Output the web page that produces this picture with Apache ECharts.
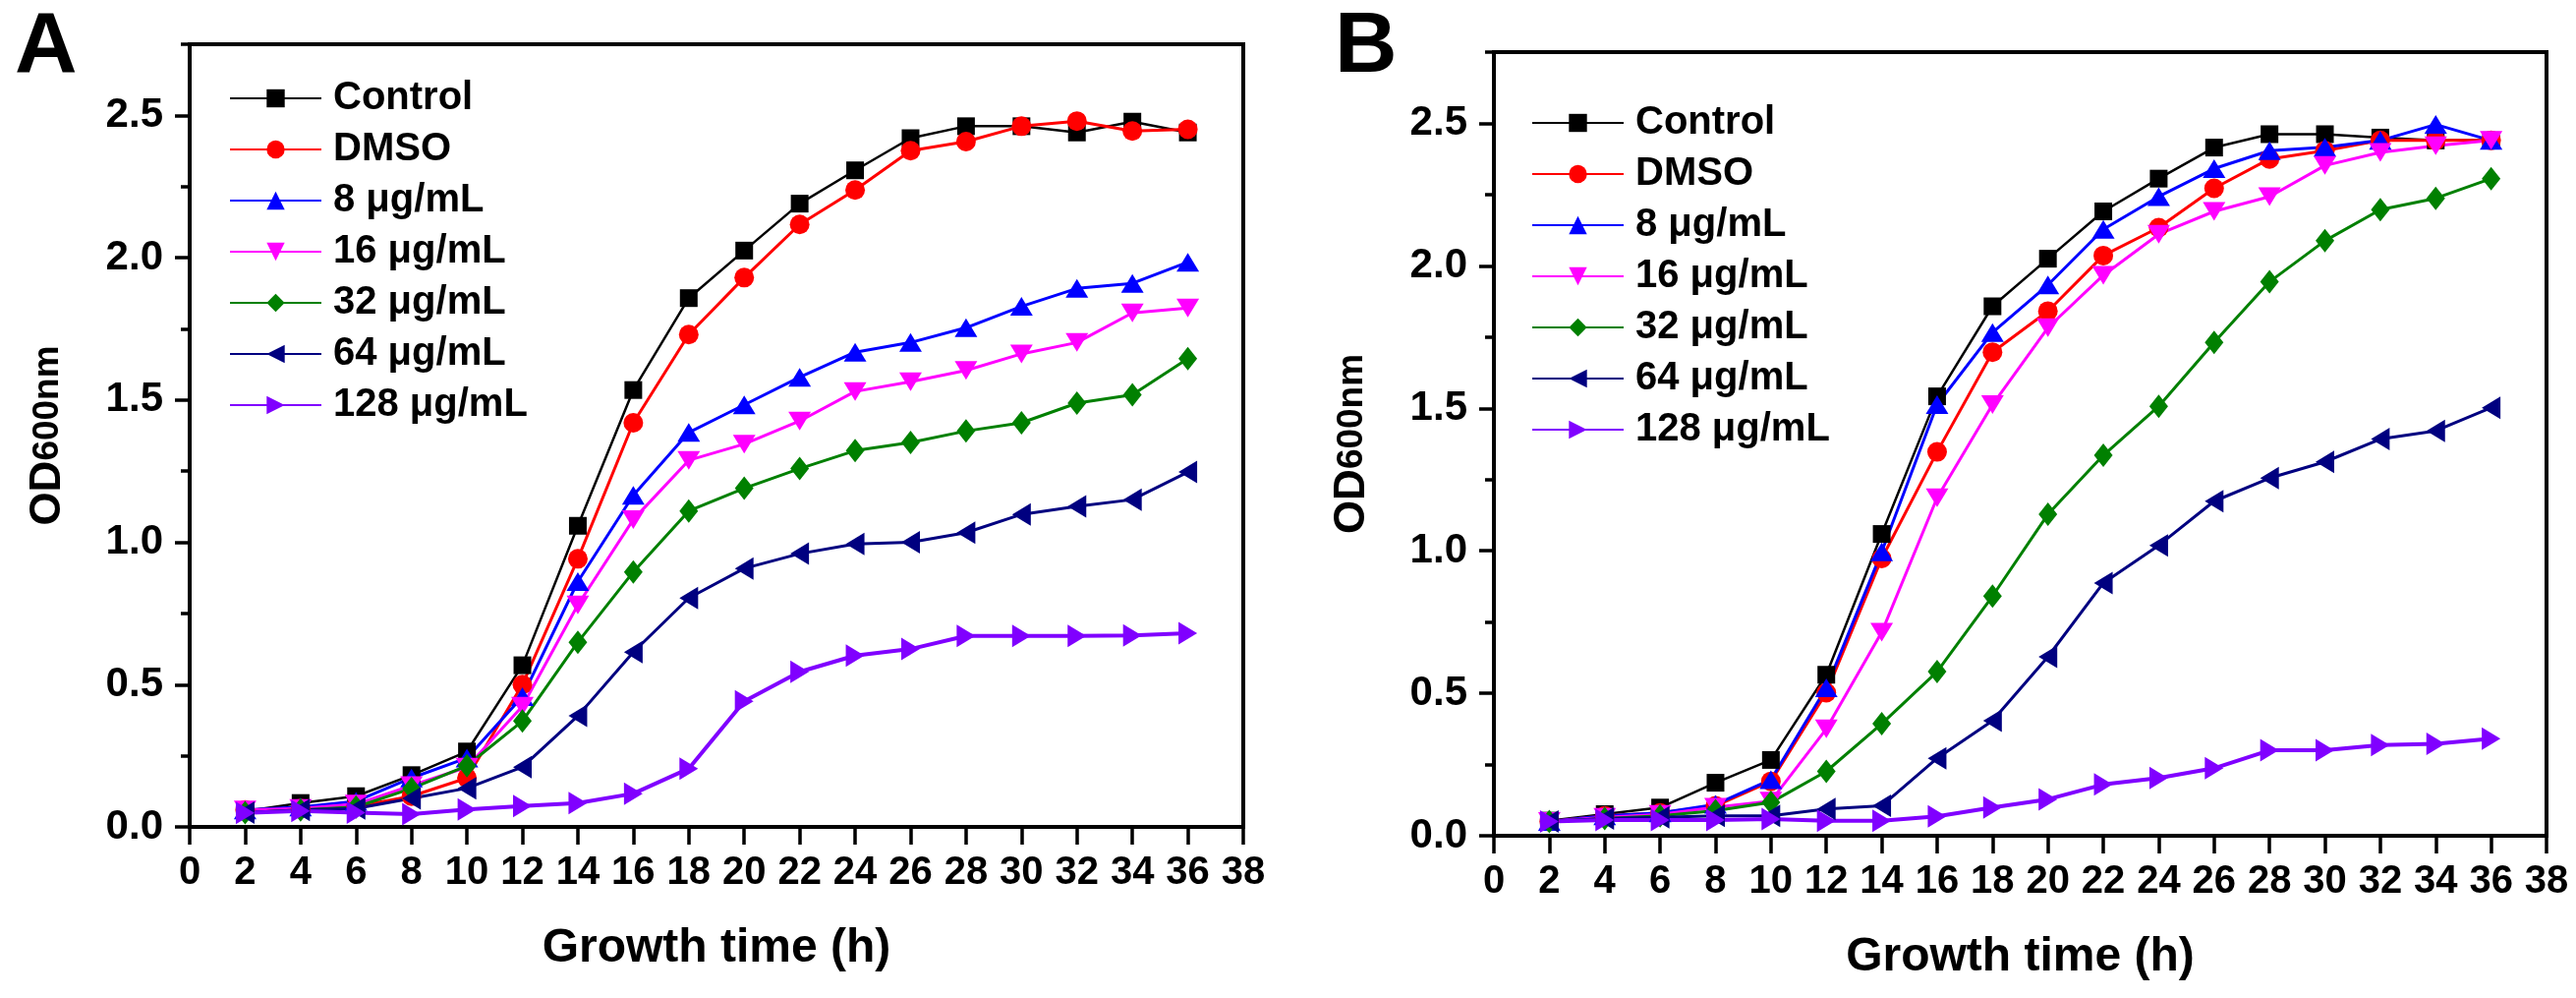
<!DOCTYPE html>
<html>
<head>
<meta charset="utf-8">
<script src="https://cdn.jsdelivr.net/npm/echarts@6/dist/echarts.min.js"></script>
<style>
html,body{margin:0;padding:0;background:#fff;}
#chart{width:2621px;height:1015px;}
</style>
</head>
<body>
<div id="chart"></div>
<script>
// ---- data ----
const times = [2,4,6,8,10,12,14,16,18,20,22,24,26,28,30,32,34,36];
const seriesNames = ['Control','DMSO','8 μg/mL','16 μg/mL','32 μg/mL','64 μg/mL','128 μg/mL'];
const xTickLabels = [0,2,4,6,8,10,12,14,16,18,20,22,24,26,28,30,32,34,36,38];
const yTickLabels = ['0.0','0.5','1.0','1.5','2.0','2.5'];

const A_control = [0.055,0.084,0.108,0.182,0.265,0.568,1.058,1.535,1.858,2.025,2.190,2.307,2.420,2.462,2.462,2.440,2.478,2.440];
const A_dmso    = [0.060,0.065,0.072,0.108,0.172,0.500,0.942,1.420,1.730,1.930,2.117,2.238,2.376,2.408,2.462,2.480,2.445,2.451];
const A_8       = [0.060,0.070,0.090,0.172,0.242,0.458,0.862,1.165,1.386,1.483,1.580,1.668,1.702,1.754,1.829,1.892,1.910,1.984];
const A_16      = [0.060,0.065,0.080,0.145,0.210,0.424,0.780,1.080,1.288,1.345,1.426,1.530,1.564,1.604,1.662,1.702,1.806,1.823];
const A_32      = [0.050,0.060,0.070,0.135,0.215,0.372,0.649,0.896,1.110,1.190,1.259,1.322,1.351,1.391,1.420,1.489,1.518,1.645];
const A_64      = [0.050,0.060,0.065,0.100,0.136,0.210,0.390,0.614,0.804,0.908,0.960,0.994,1.000,1.034,1.098,1.126,1.150,1.247];
const A_128     = [0.049,0.056,0.050,0.045,0.061,0.073,0.084,0.117,0.205,0.441,0.545,0.602,0.625,0.671,0.671,0.671,0.673,0.681];

const B_control = [0.053,0.076,0.099,0.186,0.266,0.565,1.059,1.542,1.858,2.025,2.191,2.306,2.415,2.462,2.462,2.450,2.440,2.440];
const B_dmso    = [0.050,0.070,0.080,0.105,0.191,0.502,0.973,1.347,1.697,1.841,2.036,2.134,2.272,2.375,2.404,2.440,2.440,2.440];
const B_8       = [0.050,0.070,0.080,0.110,0.197,0.519,0.996,1.513,1.766,1.933,2.128,2.243,2.341,2.404,2.416,2.440,2.496,2.440];
const B_16      = [0.050,0.065,0.075,0.100,0.122,0.375,0.714,1.186,1.513,1.783,1.967,2.111,2.191,2.243,2.352,2.398,2.421,2.440];
const B_32      = [0.050,0.060,0.070,0.088,0.117,0.226,0.393,0.576,0.841,1.128,1.335,1.507,1.731,1.944,2.088,2.197,2.237,2.306];
const B_64      = [0.050,0.060,0.065,0.070,0.070,0.094,0.105,0.272,0.404,0.628,0.887,1.019,1.174,1.255,1.312,1.392,1.421,1.502];
const B_128     = [0.050,0.055,0.055,0.055,0.059,0.053,0.053,0.068,0.099,0.128,0.180,0.203,0.237,0.300,0.300,0.318,0.323,0.341];

const panelA = [A_control,A_dmso,A_8,A_16,A_32,A_64,A_128];
const panelB = [B_control,B_dmso,B_8,B_16,B_32,B_64,B_128];

// ---- styles ----
const colors  = ['#000000','#FF0000','#0000FF','#FF00FF','#008000','#000080','#8000FF'];
const symbols = ['rect','circle','triangle','triangle','diamond','triangle','triangle'];
const rotates = [0,0,0,180,0,90,-90];
const sizes   = [18,20,[23,19],[23,19],[19,24],[23,19],[23,19]];
const widths  = [2.5,3,3,3,3,3,4];
const FONT = '"Liberation Sans", Arial, Helvetica, sans-serif';

const X_MIN = 0, X_MAX = 38, X_INT = 2;
const Y_MIN = 0, Y_MAX = 2.75, Y_MAJ = 0.5, Y_MIN_INT = 0.25, Y_LAB_MAX = 2.5;

const panels = [
  {grid:{left:193, top:45, width:1072, height:796}, legendLeft:228, legendTop:75, letter:'A', letterLeft:10, data:panelA},
  {grid:{left:1520, top:53, width:1071, height:797}, legendLeft:1553, legendTop:100, letter:'B', letterLeft:1353, data:panelB}
];

const grids = [], xAxes = [], yAxes = [], series = [], legends = [], titles = [];
panels.forEach((p, pi) => {
  const g = p.grid;
  grids.push({left:g.left, top:g.top, width:g.width, height:g.height, show:true, borderColor:'#000', borderWidth:4, backgroundColor:'transparent', containLabel:false});
  const offs = g.height * (Y_MAX - Y_LAB_MAX) / (Y_MAX - Y_MIN);
  grids.push({left:g.left, top:g.top + offs, width:g.width, height:g.height - offs, show:false, containLabel:false});

  const mainIdx = pi*2, ovIdx = pi*2 + 1;
  xAxes.push({
    type:'value', gridIndex:mainIdx, min:X_MIN, max:X_MAX, interval:X_INT,
    name:'Growth time (h)', nameLocation:'middle', nameGap:100,
    nameTextStyle:{fontFamily:FONT, fontWeight:'bold', fontSize:48, color:'#000'},
    axisLine:{show:true, onZero:false, lineStyle:{color:'#000', width:4}},
    axisTick:{show:true, inside:false, length:18, lineStyle:{color:'#000', width:3.5}},
    axisLabel:{show:true, margin:27, fontFamily:FONT, fontWeight:'bold', fontSize:40, color:'#000',
      formatter: v => (xTickLabels.indexOf(v) >= 0 ? String(v) : '')},
    splitLine:{show:false}
  });
  xAxes.push({type:'value', gridIndex:ovIdx, min:X_MIN, max:X_MAX, show:false});

  yAxes.push({
    type:'value', gridIndex:mainIdx, min:Y_MIN, max:Y_MAX, interval:Y_MIN_INT,
    name:'{a|OD}{b|600nm}', nameLocation:'middle', nameGap:122, nameRotate:90,
    nameTextStyle:{fontFamily:FONT, fontWeight:'bold', color:'#000',
      rich:{a:{fontFamily:FONT, fontWeight:'bold', fontSize:44, color:'#000'},
            b:{fontFamily:FONT, fontWeight:'bold', fontSize:37, color:'#000'}}},
    axisLine:{show:true, onZero:false, lineStyle:{color:'#000', width:4}},
    axisTick:{show:true, inside:false, length:9, lineStyle:{color:'#000', width:3.5}},
    axisLabel:{show:true, margin:27, fontFamily:FONT, fontWeight:'bold', fontSize:42, color:'#000',
      formatter: v => { const s = v.toFixed(1); return (Math.abs(v*2 - Math.round(v*2)) < 1e-6 && yTickLabels.indexOf(s) >= 0) ? s : ''; }},
    splitLine:{show:false}
  });
  yAxes.push({
    type:'value', gridIndex:ovIdx, min:Y_MIN, max:Y_LAB_MAX, interval:Y_MAJ,
    axisLine:{show:false},
    axisTick:{show:true, inside:false, length:15, lineStyle:{color:'#000', width:3.5}},
    axisLabel:{show:false}, splitLine:{show:false}
  });

  p.data.forEach((vals, si) => {
    series.push({
      name: seriesNames[si], type:'line', xAxisIndex:mainIdx, yAxisIndex:mainIdx,
      data: times.map((t, i) => [t, vals[i]]),
      symbol: symbols[si], symbolSize: sizes[si], symbolRotate: rotates[si],
      showAllSymbol:true, animation:false,
      lineStyle:{color:colors[si], width:widths[si]},
      itemStyle:{color:colors[si], borderWidth:0},
      emphasis:{disabled:true}
    });
  });

  legends.push({
    orient:'vertical', left:p.legendLeft, top:p.legendTop,
    itemWidth:93, itemHeight:23, itemGap:12, selectedMode:false,
    data: seriesNames,
    textStyle:{fontFamily:FONT, fontWeight:'bold', fontSize:40, color:'#000', lineHeight:40, padding:[0,0,0,7]}
  });

  titles.push({text:p.letter, left:p.letterLeft, top:0, textStyle:{fontFamily:FONT, fontWeight:'bold', fontSize:88, color:'#000'}});
});

const chart = echarts.init(document.getElementById('chart'), null, {renderer:'canvas'});
chart.setOption({
  backgroundColor:'#ffffff',
  animation:false,
  title: titles,
  legend: legends,
  grid: grids,
  xAxis: xAxes,
  yAxis: yAxes,
  series: series
});
</script>
</body>
</html>
